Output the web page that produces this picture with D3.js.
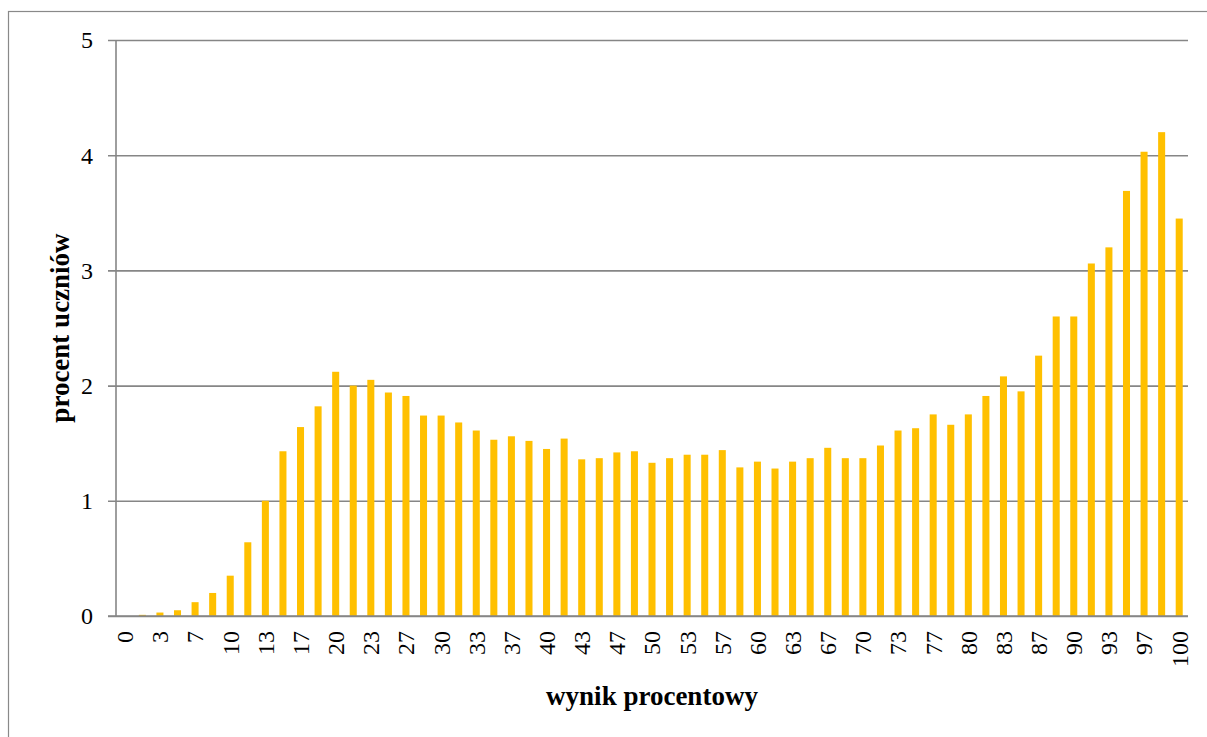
<!DOCTYPE html>
<html>
<head>
<meta charset="utf-8">
<script src="https://cdn.jsdelivr.net/npm/d3@7"></script>
<style>
    body { margin: 0; background: #fff; }
    #chart-svg { display: block; }
    text { font-family: "Liberation Serif", "Times New Roman", serif; fill: #000; }
</style>
</head>
<body>
<svg id="chart-svg" width="1207" height="737"></svg>
<script>
    // wynik procentowy (61 categories, labels shown on every second one)
    const categories = [0, 2, 3, 5, 7, 8, 10, 12, 13, 15, 17, 18, 20, 22, 23, 25, 27, 28, 30, 32,
        33, 35, 37, 38, 40, 42, 43, 45, 47, 48, 50, 52, 53, 55, 57, 58, 60, 62, 63, 65,
        67, 68, 70, 72, 73, 75, 77, 78, 80, 82, 83, 85, 87, 88, 90, 92, 93, 95, 97, 98, 100];

    // procent uczniów
    const values = [0, 0.01, 0.03, 0.05, 0.12, 0.20, 0.35, 0.64, 1.00, 1.43, 1.64, 1.82, 2.12, 2.00, 2.05, 1.94, 1.91, 1.74, 1.74, 1.68,
        1.61, 1.53, 1.56, 1.52, 1.45, 1.54, 1.36, 1.37, 1.42, 1.43, 1.33, 1.37, 1.40, 1.40, 1.44, 1.29, 1.34, 1.28, 1.34, 1.37,
        1.46, 1.37, 1.37, 1.48, 1.61, 1.63, 1.75, 1.66, 1.75, 1.91, 2.08, 1.95, 2.26, 2.60, 2.60, 3.06, 3.20, 3.69, 4.03, 4.20, 3.45];

    const yTicks = [0, 1, 2, 3, 4, 5];

    const svg = d3.select("#chart-svg");
    const plotLeft = 116, plotRight = 1188, plotTop = 40, plotBottom = 616;

    // outer frame
    svg.append("rect")
        .attr("x", 8.5).attr("y", 11.5)
        .attr("width", 1250).attr("height", 800)
        .attr("fill", "none")
        .attr("stroke", "#898989")
        .attr("stroke-width", 1.2);

    const x = d3.scaleBand()
        .domain(d3.range(categories.length))
        .range([plotLeft, plotRight])
        .paddingInner(0.6)
        .paddingOuter(0.3);

    const y = d3.scaleLinear().domain([0, 5]).range([plotBottom, plotTop]);

    // gridlines + y ticks
    const yAxis = d3.axisLeft(y)
        .tickValues(yTicks)
        .tickSize(0)
        .tickFormat("");
    const gy = svg.append("g")
        .attr("transform", `translate(${plotLeft - 8},0)`)
        .call(yAxis);
    gy.select(".domain").remove();
    gy.selectAll(".tick line")
        .attr("stroke", "#868686")
        .attr("stroke-width", 1.6)
        .attr("x1", 0)
        .attr("x2", plotRight - plotLeft + 8);

    svg.append("line")
        .attr("x1", plotLeft).attr("x2", plotLeft)
        .attr("y1", plotTop).attr("y2", plotBottom)
        .attr("stroke", "#868686")
        .attr("stroke-width", 1.6);

    svg.append("g").selectAll("text")
        .data(yTicks)
        .join("text")
        .attr("x", 93)
        .attr("y", d => y(d))
        .attr("dy", "0.35em")
        .attr("text-anchor", "end")
        .style("font-size", "24px")
        .text(d => d);

    // bars
    svg.append("g").selectAll("rect")
        .data(values)
        .join("rect")
        .attr("x", (d, i) => x(i))
        .attr("y", d => y(d))
        .attr("width", x.bandwidth())
        .attr("height", d => y(0) - y(d))
        .attr("fill", "#FFC000");

    // redraw baseline over bars
    svg.append("line")
        .attr("x1", plotLeft - 8).attr("x2", plotRight)
        .attr("y1", y(0)).attr("y2", y(0))
        .attr("stroke", "#868686")
        .attr("stroke-width", 1.6);

    // x labels, every second category
    svg.append("g").selectAll("text")
        .data(categories.map((c, i) => ({ c, i })).filter(d => d.i % 2 === 0))
        .join("text")
        .attr("transform", d => `translate(${x(d.i) + x.bandwidth() / 2},${plotBottom + 15}) rotate(-90)`)
        .attr("dy", "0.35em")
        .attr("text-anchor", "end")
        .style("font-size", "24px")
        .text(d => d.c);

    // axis titles
    svg.append("text")
        .attr("x", 652).attr("y", 705)
        .attr("text-anchor", "middle")
        .style("font-size", "27px")
        .style("font-weight", "bold")
        .text("wynik procentowy");

    svg.append("text")
        .attr("transform", "translate(69,328) rotate(-90)")
        .attr("text-anchor", "middle")
        .style("font-size", "27px")
        .style("font-weight", "bold")
        .text("procent uczniów");
</script>
</body>
</html>
